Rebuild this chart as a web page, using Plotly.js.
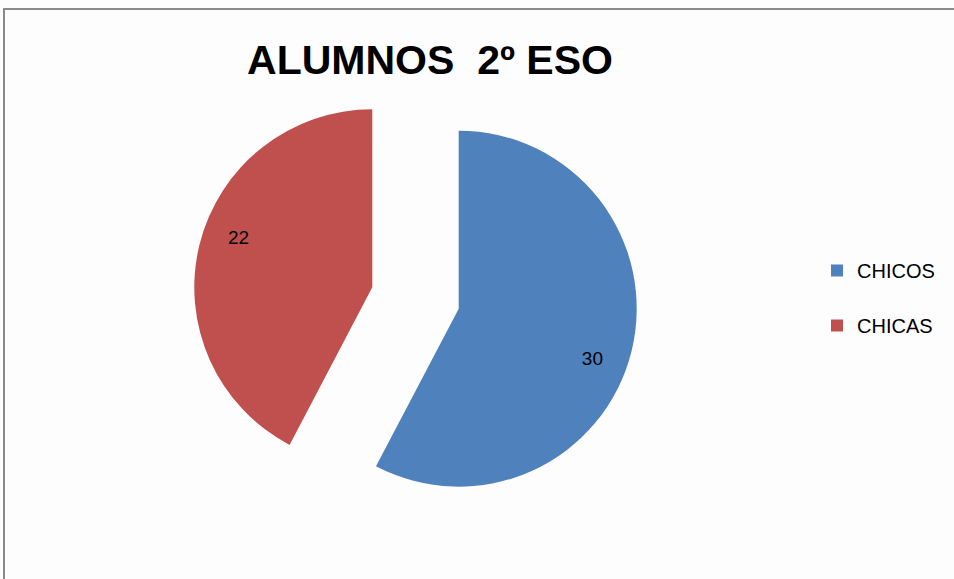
<!DOCTYPE html>
<html>
<head>
<meta charset="utf-8">
<script src="https://cdn.plot.ly/plotly-3.0.1.min.js"></script>
<style>html,body{margin:0;padding:0;background:#fdfdfd;}</style>
</head>
<body>
<div id="chart" style="width:954px;height:579px;"></div>
<script>
const categories = ["CHICOS", "CHICAS"];
const values = [30, 22];
const sliceColors = ["#4F81BD", "#C0504D"];
const chartTitle = "ALUMNOS\u00a0 2º ESO";

const W = 954, H = 579;
const cx = 415.5, cy = 298, half = 222.5;
const pieDomain = {x: [(cx - half) / W, (cx + half) / W], y: [1 - (cy + half) / H, 1 - (cy - half) / H]};

// Filled slices (legend source)
const slices = {
  type: "pie",
  labels: categories.map(c => c + "<br> "),
  values: values,
  textinfo: "none",
  sort: false,
  direction: "clockwise",
  rotation: 0,
  pull: [0.25, 0.25],
  marker: {colors: sliceColors, line: {width: 0}},
  domain: pieDomain,
  hoverinfo: "label+value"
};

// Transparent ring carrying the value labels at ~0.8 r
const labelRing = {
  type: "pie",
  labels: categories,
  values: values,
  text: values.map(String),
  textinfo: "text",
  textposition: "inside",
  insidetextorientation: "horizontal",
  textfont: {family: "Liberation Sans, Arial, sans-serif", size: 19, color: "#000000"},
  sort: false,
  direction: "clockwise",
  rotation: 5,
  hole: 0.6,
  pull: [0.25, 0.25],
  marker: {colors: ["rgba(0,0,0,0)", "rgba(0,0,0,0)"], line: {width: 0}},
  domain: pieDomain,
  showlegend: false,
  hoverinfo: "skip"
};

const layout = {
  width: W, height: H,
  margin: {l: 0, r: 0, t: 0, b: 0},
  paper_bgcolor: "#fdfdfd",
  plot_bgcolor: "#fdfdfd",
  title: {
    text: "<b>" + chartTitle + "</b>",
    font: {family: "Liberation Sans, Arial, sans-serif", size: 41, color: "#000000"},
    x: 430 / W, xanchor: "center",
    y: 1 - 60 / H, yanchor: "middle"
  },
  showlegend: true,
  legend: {
    x: 817 / W, xanchor: "left",
    y: 1 - 311 / H, yanchor: "middle",
    valign: "top",
    font: {family: "Liberation Sans, Arial, sans-serif", size: 20, color: "#000000"},
    bgcolor: "rgba(0,0,0,0)"
  },
  shapes: [{
    type: "rect", xref: "paper", yref: "paper",
    x0: 4 / W, x1: 1.01, y0: -0.01, y1: 1 - 9 / H,
    line: {color: "#8a8a8a", width: 2}, fillcolor: "rgba(0,0,0,0)"
  }]
};

Plotly.newPlot("chart", [slices, labelRing], layout, {displayModeBar: false, staticPlot: true});
</script>
</body>
</html>
